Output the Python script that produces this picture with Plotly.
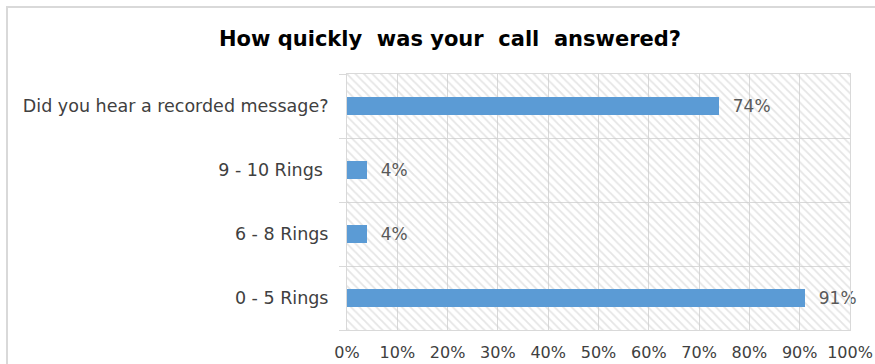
import plotly.graph_objects as go

categories = ["0 - 5 Rings", "6 - 8 Rings", "9 - 10 Rings ", "Did you hear a recorded message?"]
values = [0.91, 0.04, 0.04, 0.74]
x_ticks = [0, 0.1, 0.2, 0.3, 0.4, 0.5, 0.6, 0.7, 0.8, 0.9, 1.0]
x_ticklabels = ["0%", "10%", "20%", "30%", "40%", "50%", "60%", "70%", "80%", "90%", "100%"]
title = "How quickly&nbsp; was your&nbsp; call&nbsp; answered?"

W, H = 875, 364
L, R, T, B = 347, 25, 74, 34
pw, ph = W - L - R, H - T - B

grid = "#d9d9d9"
txt = "#595959"
lab = "#404040"
font = "DejaVu Sans"

fig = go.Figure()
# hatched plot-area background
fig.add_trace(go.Bar(
    y=categories, x=[x_ticks[-1]] * len(categories), orientation="h", width=1,
    marker=dict(color="rgba(0,0,0,0)", line=dict(width=0),
                pattern=dict(shape="\\", fgcolor="#cccccc", bgcolor="rgba(0,0,0,0)",
                             size=6, solidity=0.3, fillmode="overlay")),
    hoverinfo="skip", showlegend=False,
))
fig.add_trace(go.Bar(
    y=categories, x=values, orientation="h", width=0.28,
    marker=dict(color="#5b9bd5", line=dict(width=0)),
    text=["\u00a0\u00a0" + f"{round(v*100)}%" for v in values], textposition="outside",
    constraintext="none",
    textfont=dict(family=font, size=17, color=txt),
    cliponaxis=False, showlegend=False,
))

def px2paper_x(p):
    return (p - L) / pw

def px2paper_y(p):
    return (H - B - p) / ph

fig.add_shape(type="rect", xref="paper", yref="paper",
              x0=px2paper_x(7), x1=px2paper_x(890), y0=px2paper_y(380), y1=px2paper_y(7),
              line=dict(color="#d9d9d9", width=2), fillcolor="rgba(0,0,0,0)", layer="below")

fig.update_layout(
    width=W, height=H, margin=dict(l=L, r=R, t=T, b=B, autoexpand=False),
    barmode="overlay", bargap=0,
    paper_bgcolor="white", plot_bgcolor="white",
    title=dict(text=title, x=450 / W, xanchor="center", y=1 - 39 / H, yanchor="middle",
               font=dict(family=font, size=21, color="#000000", weight="bold")),
    xaxis=dict(range=[0, 1], tickvals=x_ticks, ticktext=x_ticklabels, automargin=False,
               showgrid=True, gridcolor=grid, gridwidth=1, zeroline=False,
               showline=True, linecolor=grid, mirror=True, ticks="",
               ticklabelstandoff=8,
               tickfont=dict(family=font, size=16, color=lab)),
    yaxis=dict(type="category", categoryorder="array", categoryarray=categories,
               range=[-0.5, len(categories) - 0.5], automargin=False,
               tickson="boundaries", ticks="outside", ticklen=7, tickcolor=grid,
               showgrid=True, gridcolor=grid, gridwidth=1, zeroline=False,
               showline=True, linecolor=grid, mirror=True,
               ticklabelstandoff=14,
               tickfont=dict(family=font, size=17.5, color=lab)),
)

fig.write_html("out.html")
